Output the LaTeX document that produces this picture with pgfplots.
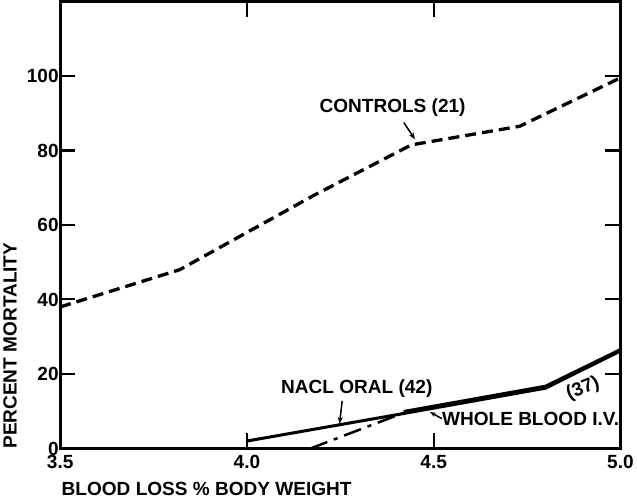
\documentclass[border=0pt]{standalone}
\usepackage{fontspec}
\setmainfont{Liberation Sans}
\usepackage{pgfplots}
\pgfplotsset{compat=1.18}
\usetikzlibrary{arrows.meta}
\newcommand{\lbl}{\fontsize{19}{22}\selectfont\bfseries}
\begin{document}
\begin{tikzpicture}
\begin{axis}[
    scale only axis,
    width=559pt,
    height=446pt,
    xmin=3.5, xmax=5.0,
    ymin=0, ymax=120,
    xtick={3.5,4.0,4.5,5.0},
    xticklabels={3.5,4.0,4.5,5.0},
    ytick={0,20,...,100},
    tick align=inside,
    major tick length=15pt,
    tick style={line width=2pt, black},
    axis line style={line width=3pt},
    /pgf/number format/assume math mode=true,
    tick label style={font=\lbl},
    xticklabel style={yshift=-3pt},
    yticklabel style={xshift=2pt},
    xlabel={BLOOD LOSS \% BODY WEIGHT},
    ylabel={PERCENT MORTALITY},
    every axis x label/.style={at={(rel axis cs:0,0)}, anchor=north west, yshift=-30pt, xshift=-2pt, font=\lbl},
    every axis y label/.style={at={([xshift=-50pt]rel axis cs:0,0.23)}, rotate=90, anchor=center, font=\lbl},
    clip=false,
]
% controls (dashed)
\addplot[black, line width=3.3pt, dash pattern=on 11pt off 6pt] coordinates {
(3.5,38) (3.82,48) (4.18,68) (4.44,81.5) (4.73,86.5) (5.0,99.5)
};
% NaCl oral (solid)
\addplot[black, line width=3pt] coordinates {
(4.0,2) (4.42,9.4) (4.8,16.2) (5.0,26.2)
};
% whole blood i.v. (dash-dot, then along the NaCl line)
\addplot[black, line width=2.5pt, dash pattern=on 18pt off 7pt on 4pt off 7pt] coordinates {
(4.17,0) (4.42,9.6)
};
\addplot[black, line width=4pt] coordinates {
(4.42,9.8) (4.8,16.6) (5.0,26.4)
};
\node[font=\lbl] at (axis cs:4.39,91.5) {CONTROLS (21)};
\draw[line width=1.5pt, -{Stealth[length=7pt]}] (axis cs:4.42,87.5) -- (axis cs:4.45,83);
\node[font=\lbl] at (axis cs:4.294,16.2) {NACL ORAL (42)};
\draw[line width=1.5pt, -{Stealth[length=7pt]}] (axis cs:4.255,12.8) -- (axis cs:4.248,6.6);
\node[font=\lbl, anchor=west, inner sep=0pt] at (axis cs:4.522,8.0) {WHOLE BLOOD I.V.};
\draw[line width=1.5pt, -{Stealth[length=6pt]}] (axis cs:4.522,8.0) -- (axis cs:4.49,9.8);
\node[font=\lbl, rotate=22, inner sep=0pt] at (axis cs:4.9,16.0) {(37)};
\end{axis}
\end{tikzpicture}
\end{document}
